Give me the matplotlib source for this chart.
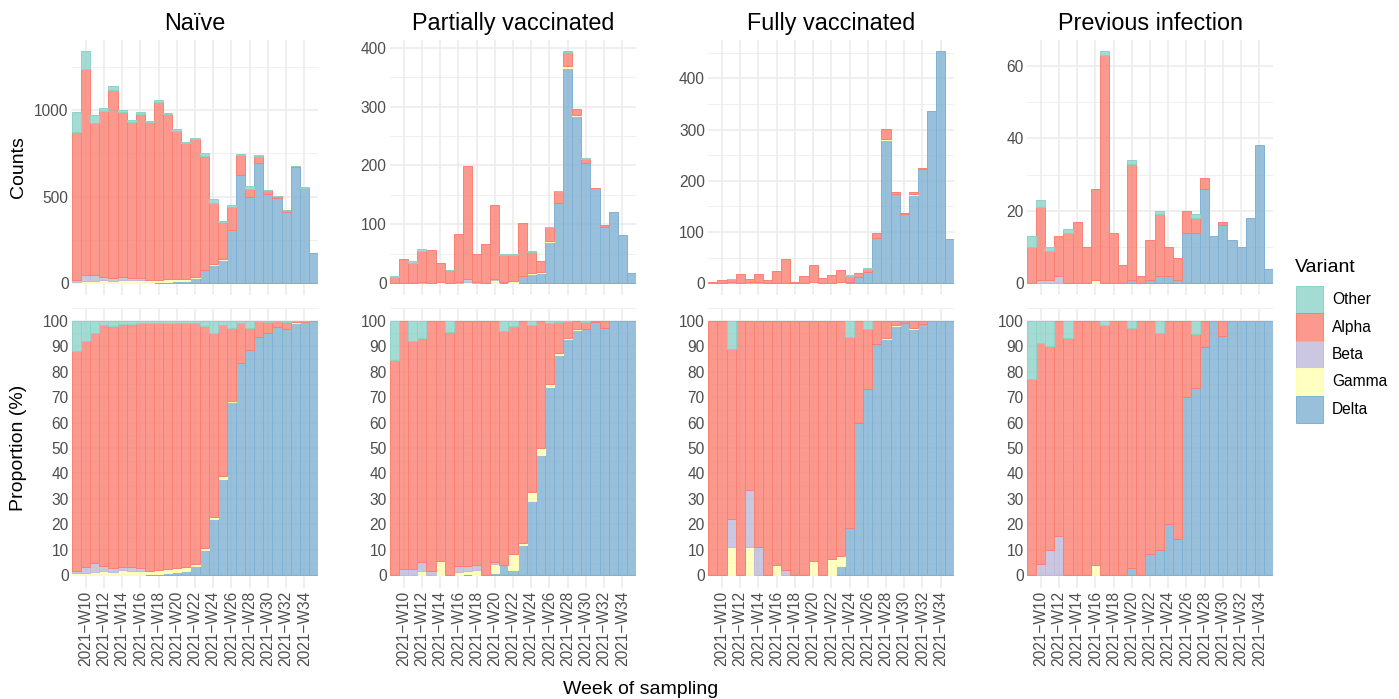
import matplotlib
matplotlib.use("Agg")
import matplotlib.pyplot as plt
import numpy as np
from matplotlib.patches import Rectangle
from matplotlib.ticker import MultipleLocator, FixedLocator
from matplotlib.colors import to_rgba

plt.rcParams['font.family'] = ['Liberation Sans', 'DejaVu Sans']

# ---------------- data ----------------
weeks = list(range(9, 36))                       # ISO weeks 2021-W09 .. 2021-W35
tick_weeks = list(range(10, 35, 2))
tick_labels = [f"2021\u2212W{w:02d}" for w in tick_weeks]

groups = ["Naïve", "Partially vaccinated", "Fully vaccinated", "Previous infection"]
legend_order = ["Other", "Alpha", "Beta", "Gamma", "Delta"]
stack_order = ["Delta", "Gamma", "Beta", "Alpha", "Other"]
variant_colors = {"Other": "#8DD3C7", "Alpha": "#FB8072", "Beta": "#BEBADA",
                  "Gamma": "#FFFFB3", "Delta": "#80B1D3"}

naive_other = [116, 105, 46, 17, 23, 13, 12, 10, 8, 8, 7, 8, 8, 7, 15, 24, 6, 12, 6, 15, 2, 2, 1, 2, 2, 1, 0]
naive_alpha = [853, 1189, 877, 956, 1082, 953, 899, 949, 913, 1026, 950, 856, 784, 793, 655, 351, 213, 130, 117, 50, 44, 25, 11, 12, 2, 1, 0]
naive_beta = [10, 32, 33, 19, 18, 14, 14, 12, 0, 0, 0, 0, 0, 0, 0, 0, 0, 0, 0, 0, 0, 0, 0, 0, 0, 0, 0]
naive_gamma = [8, 14, 13, 18, 15, 20, 17, 17, 14, 15, 17, 15, 11, 7, 5, 5, 3, 2, 0, 0, 0, 0, 0, 0, 1, 0, 0]
naive_delta = [0, 0, 0, 0, 0, 0, 0, 0, 3, 7, 9, 11, 14, 31, 75, 107, 136, 306, 623, 496, 692, 513, 494, 409, 672, 552, 173]

partial_other = [2, 0, 3, 4, 0, 0, 1, 0, 0, 0, 0, 0, 2, 1, 0, 1, 0, 1, 1, 1, 0, 1, 0, 0, 0, 0, 0]
partial_alpha = [11, 40, 34, 52, 56, 33, 22, 81, 192, 48, 67, 126, 46, 44, 89, 36, 19, 23, 19, 25, 10, 6, 1, 3, 0, 0, 0]
partial_beta = [0, 1, 1, 2, 1, 0, 0, 2, 4, 1, 0, 1, 0, 0, 0, 0, 0, 0, 0, 0, 0, 0, 0, 0, 0, 0, 0]
partial_gamma = [0, 0, 0, 1, 0, 2, 0, 1, 2, 1, 0, 5, 0, 3, 1, 2, 1, 1, 1, 2, 1, 0, 0, 0, 0, 0, 0]
partial_delta = [0, 0, 0, 0, 0, 0, 0, 0, 1, 0, 0, 1, 2, 1, 12, 16, 18, 71, 136, 366, 284, 205, 161, 96, 121, 82, 17]

full_other = [0, 0, 1, 0, 0, 0, 0, 0, 0, 0, 0, 0, 0, 0, 0, 1, 0, 1, 0, 0, 0, 0, 0, 0, 0, 0, 0]
full_alpha = [3, 7, 6, 18, 6, 16, 6, 24, 46, 3, 14, 33, 11, 15, 25, 12, 8, 7, 9, 21, 3, 1, 5, 3, 0, 0, 0]
full_beta = [0, 0, 1, 0, 2, 2, 0, 0, 1, 0, 0, 0, 0, 0, 0, 0, 0, 0, 0, 0, 0, 0, 0, 0, 0, 0, 0]
full_gamma = [0, 0, 1, 0, 1, 0, 0, 1, 0, 0, 0, 2, 0, 1, 1, 0, 0, 0, 0, 1, 1, 0, 1, 0, 0, 0, 0]
full_delta = [0, 0, 0, 0, 0, 0, 0, 0, 0, 0, 0, 0, 0, 0, 1, 3, 12, 22, 89, 280, 174, 136, 173, 223, 337, 453, 87]

prev_other = [3, 2, 1, 0, 1, 0, 0, 0, 1, 0, 0, 1, 0, 0, 1, 0, 0, 0, 1, 0, 0, 0, 0, 0, 0, 0, 0]
prev_alpha = [10, 20, 8, 11, 14, 17, 10, 25, 63, 14, 5, 32, 2, 11, 17, 8, 6, 6, 4, 3, 0, 1, 0, 0, 0, 0, 0]
prev_beta = [0, 1, 1, 2, 0, 0, 0, 0, 0, 0, 0, 0, 0, 0, 0, 0, 0, 0, 0, 0, 0, 0, 0, 0, 0, 0, 0]
prev_gamma = [0, 0, 0, 0, 0, 0, 0, 1, 0, 0, 0, 0, 0, 0, 0, 0, 0, 0, 0, 0, 0, 0, 0, 0, 0, 0, 0]
prev_delta = [0, 0, 0, 0, 0, 0, 0, 0, 0, 0, 0, 1, 0, 1, 2, 2, 1, 14, 14, 26, 13, 16, 12, 10, 18, 38, 4]

group_data = {
    "Naïve": {"Other": naive_other, "Alpha": naive_alpha, "Beta": naive_beta,
              "Gamma": naive_gamma, "Delta": naive_delta},
    "Partially vaccinated": {"Other": partial_other, "Alpha": partial_alpha, "Beta": partial_beta,
                             "Gamma": partial_gamma, "Delta": partial_delta},
    "Fully vaccinated": {"Other": full_other, "Alpha": full_alpha, "Beta": full_beta,
                         "Gamma": full_gamma, "Delta": full_delta},
    "Previous infection": {"Other": prev_other, "Alpha": prev_alpha, "Beta": prev_beta,
                           "Gamma": prev_gamma, "Delta": prev_delta},
}
count_steps = {"Naïve": 500, "Partially vaccinated": 100, "Fully vaccinated": 100, "Previous infection": 20}

# ---------------- layout ----------------
W, H = 1399, 699
fig = plt.figure(figsize=(W / 100, H / 100), dpi=100)

def fx(px):
    return px / W

def fy(py):
    return 1 - py / H

panel_lefts = [72, 390, 708.3, 1027]
panel_w = 246
top_row = (39.5, 295)
bot_row = (308, 588)

GRID = "#EBEBEB"
TICK_COLOR = "#4D4D4D"
FILL_ALPHA = 0.8

def style_axes(ax):
    for s in ax.spines.values():
        s.set_visible(False)
    ax.set_axisbelow(True)
    ax.grid(which="major", color=GRID, linewidth=1.1)
    ax.grid(which="minor", axis="y", color=GRID, linewidth=0.55)
    ax.tick_params(which="both", length=0, labelsize=11.2, labelcolor=TICK_COLOR)
    ax.tick_params(axis="y", pad=2.5)
    ax.tick_params(axis="x", pad=2)
    ax.set_xlim(weeks[0] - 0.5, weeks[-1] + 0.5)
    ax.xaxis.set_major_locator(FixedLocator(tick_weeks))

def draw_stack(ax, data, proportion=False):
    x = np.array(weeks)
    totals = np.sum([np.array(data[v], float) for v in stack_order], axis=0)
    cum = np.zeros(len(weeks))
    for v in stack_order:
        vals = np.array(data[v], float)
        if proportion:
            vals = np.where(totals > 0, vals / totals * 100, 0)
        m = vals > 0
        ax.bar(x[m], vals[m], width=1.0, bottom=cum[m], align="center",
               facecolor=to_rgba(variant_colors[v], FILL_ALPHA),
               edgecolor=variant_colors[v], linewidth=0.7)
        cum += vals
    return totals

for i, g in enumerate(groups):
    left = panel_lefts[i]
    # counts
    ax1 = fig.add_axes([fx(left), fy(top_row[1]), panel_w / W, (top_row[1] - top_row[0]) / H])
    style_axes(ax1)
    totals = draw_stack(ax1, group_data[g])
    mx = totals.max()
    ax1.set_ylim(-0.05 * mx, 1.05 * mx)
    step = count_steps[g]
    ax1.yaxis.set_major_locator(MultipleLocator(step))
    ax1.yaxis.set_minor_locator(MultipleLocator(step / 2))
    ax1.set_xticklabels([])

    # proportions
    ax2 = fig.add_axes([fx(left), fy(bot_row[1]), panel_w / W, (bot_row[1] - bot_row[0]) / H])
    style_axes(ax2)
    draw_stack(ax2, group_data[g], proportion=True)
    ax2.set_ylim(-5, 105)
    ax2.yaxis.set_major_locator(MultipleLocator(10))
    ax2.yaxis.set_minor_locator(MultipleLocator(5))
    ax2.set_xticklabels(tick_labels, rotation=90, va="top", ha="center")

    fig.text(fx(left + panel_w / 2), fy(30), g, fontsize=16.8, ha="center", va="baseline")

# axis titles
fig.text(fx(19), fy((top_row[0] + top_row[1]) / 2), "Counts", rotation=90,
         fontsize=14, ha="center", va="center")
fig.text(fx(19), fy((bot_row[0] + bot_row[1]) / 2), "Proportion (%)", rotation=90,
         fontsize=14, ha="center", va="center")
fig.text(fx(641), fy(690), "Week of sampling", fontsize=14, ha="center", va="center")

# legend
fig.text(fx(1295), fy(268), "Variant", fontsize=14, ha="left", va="center")
key_x0, key_w, key_h, key_y0 = 1295.7, 27, 27.4, 286
for k, v in enumerate(legend_order):
    y0 = key_y0 + k * key_h
    fig.add_artist(Rectangle((fx(key_x0), fy(y0 + key_h)), key_w / W, key_h / H,
                             transform=fig.transFigure,
                             facecolor=to_rgba(variant_colors[v], FILL_ALPHA),
                             edgecolor=variant_colors[v], linewidth=0.7))
    fig.text(fx(1332), fy(y0 + key_h / 2), v, fontsize=11.2, ha="left", va="center")

fig.savefig("out.png", dpi=100)
